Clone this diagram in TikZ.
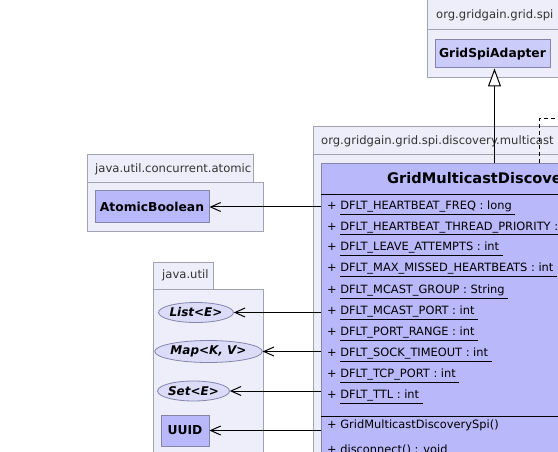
\documentclass[tikz,border=0pt]{standalone}
\usepackage{fontspec}
\setmainfont{DejaVu Sans}
\usetikzlibrary{arrows.meta,shapes.geometric}
\definecolor{pkgfill}{HTML}{EEEEFA}
\definecolor{pkgline}{HTML}{A2A2B4}
\definecolor{clsfill}{HTML}{B8B8FA}
\definecolor{clslight}{HTML}{CCCCFA}
\definecolor{ifill}{HTML}{DCDCF8}
\definecolor{clsline}{HTML}{8484AC}
\definecolor{pkgtext}{HTML}{333333}
\newcommand\ulbox[1]{$\underline{\hbox{#1}}$}
\begin{document}
\begin{tikzpicture}[x=1pt,y=-1pt,
  pkg/.style={draw=pkgline,fill=pkgfill,line width=1pt},
  pkglabel/.style={anchor=west,inner sep=0pt,text=pkgtext,font=\fontsize{11.6}{13}\selectfont},
  clsbox/.style={draw=clsline,fill=clsfill,line width=1pt,inner sep=0pt,font=\bfseries\fontsize{12.3}{14}\selectfont},
  ifc/.style={ellipse,draw=clsline,fill=ifill,line width=0.8pt,inner sep=0pt,font=\bfseries\itshape\fontsize{12}{14}\selectfont},
  attr/.style={anchor=west,inner sep=0pt,font=\fontsize{11.4}{13}\selectfont},
  dep/.style={draw=black,line width=1pt,-{Straight Barb[length=10pt,width=9pt,line width=1pt]}},
  gen/.style={draw=black,line width=1pt,-{Triangle[open,length=18pt,width=13pt,fill=white,line width=1pt]}},
  real/.style={draw=black,line width=1pt,dashed,dash pattern=on 4pt off 3pt}
]
\useasboundingbox (0,0) rectangle (558,452);
\clip (0,0) rectangle (558,452);
\fill[white] (0,0) rectangle (558,452);

% package org.gridgain.grid.spi
\path[pkg] (427,-2) rectangle (600,30);
\path[pkg] (427,30) rectangle (600,78);
\node[pkglabel] (spilab) at (436,15) {org.gridgain.grid.spi};
\node[clsbox,fill=clslight,minimum width=115,minimum height=28] (adapter) at (492.5,54) {GridSpiAdapter};

% package multicast
\path[pkg] (313,127) rectangle (600,155);
\path[pkg] (313,155) rectangle (600,470);
\node[pkglabel] (mclab) at (321,141) {org.gridgain.grid.spi.discovery.multicast};

% package java.util.concurrent.atomic
\path[pkg] (87,155) rectangle (253,183);
\path[pkg] (87,183) rectangle (263,231);
\node[pkglabel] (atlab) at (95,169) {java.util.concurrent.atomic};
\node[clsbox,minimum width=114,minimum height=32] (ab) at (152,207) {AtomicBoolean};

% package java.util
\path[pkg] (153,262) rectangle (213,289);
\path[pkg] (153,289) rectangle (263,470);
\node[pkglabel] (julab) at (162,275) {java.util};
\node[ifc,minimum width=70,minimum height=20] (list) at (196,312.5) {List<E>};
\node[ifc,minimum width=95,minimum height=22] (map) at (208.5,351.5) {Map<K, V>};
\node[ifc,minimum width=65,minimum height=20] (set) at (193.5,391) {Set<E>};
\node[clsbox,minimum width=48,minimum height=31] (uuid) at (185,430.5) {UUID};

% main class
\node[clsbox,anchor=north west,minimum width=400,minimum height=400] (gmd) at (321,163) {};
\draw[black,line width=1pt] (gmd.west |- 0,195) -- (gmd.east |- 0,195);
\draw[black,line width=1pt] (gmd.west |- 0,416) -- (gmd.east |- 0,416);
\node[anchor=west,inner sep=0pt,font=\bfseries\fontsize{14.6}{17}\selectfont] (gmdname) at (387,180) {GridMulticastDiscoverySpi};

\node[attr] (a1) at (327,208) {+ \ulbox{DFLT\_HEARTBEAT\_FREQ : long\ }};
\node[attr] (a2) at (327,228.5) {+ \ulbox{DFLT\_HEARTBEAT\_THREAD\_PRIORITY : int\ }};
\node[attr] (a3) at (327,249) {+ \ulbox{DFLT\_LEAVE\_ATTEMPTS : int\ }};
\node[attr] (a4) at (327,270) {+ \ulbox{DFLT\_MAX\_MISSED\_HEARTBEATS : int\ }};
\node[attr] (a5) at (327,292) {+ \ulbox{DFLT\_MCAST\_GROUP : String\ }};
\node[attr] (a6) at (327,313) {+ \ulbox{DFLT\_MCAST\_PORT : int\ }};
\node[attr] (a7) at (327,334) {+ \ulbox{DFLT\_PORT\_RANGE : int\ }};
\node[attr] (a8) at (327,355) {+ \ulbox{DFLT\_SOCK\_TIMEOUT : int\ }};
\node[attr] (a9) at (327,376) {+ \ulbox{DFLT\_TCP\_PORT : int\ }};
\node[attr] (a10) at (327,397) {+ \ulbox{DFLT\_TTL : int\ }};
\node[attr] (c1) at (327,425) {+ GridMulticastDiscoverySpi()};
\node[attr] (m1) at (327,450) {+ disconnect() : void};

% connectors
\draw[gen] (gmd.north -| 494.5,0) -- (adapter.south -| 494.5,0);
\coordinate (realend) at (570,119);
\draw[real] (gmd.north -| 539,0) |- (realend);
\draw[dep] (gmd.west |- ab.east) -- (ab.east);
\draw[dep] (gmd.west |- list.east) -- (list.east);
\draw[dep] (gmd.west |- map.east) -- (map.east);
\draw[dep] (gmd.west |- set.east) -- (set.east);
\draw[dep] (gmd.west |- uuid.east) -- (uuid.east);
\end{tikzpicture}
\end{document}
